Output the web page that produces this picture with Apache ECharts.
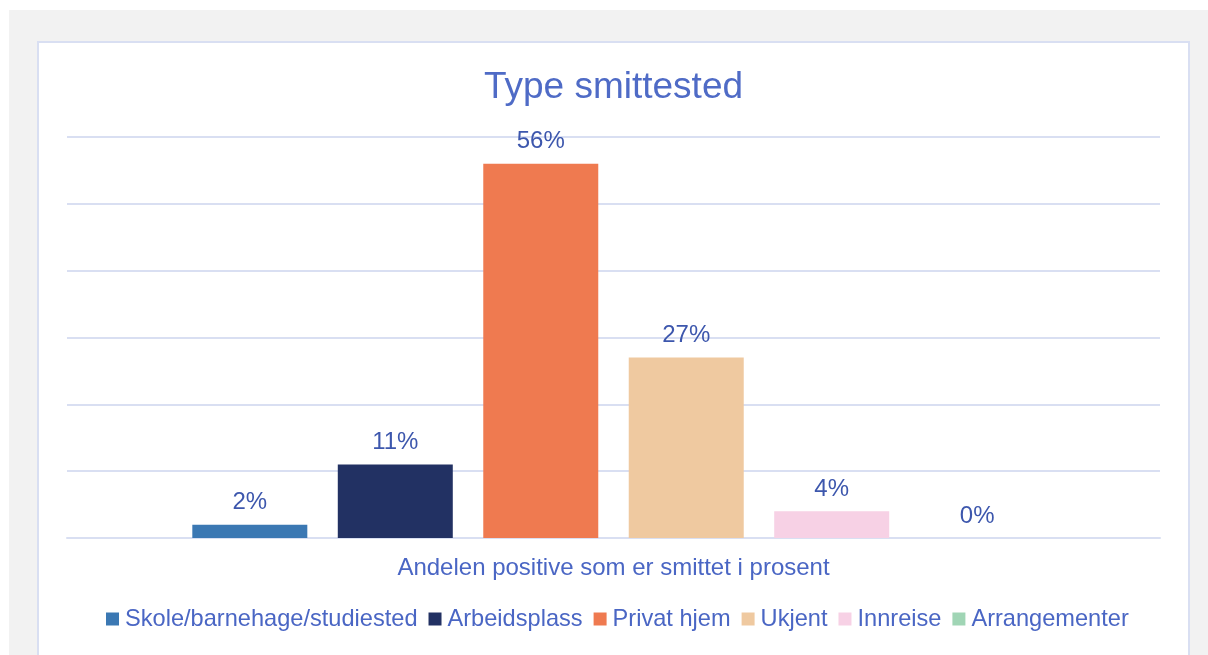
<!DOCTYPE html>
<html>
<head>
<meta charset="utf-8">
<script src="https://cdn.jsdelivr.net/npm/echarts@6/dist/echarts.min.js"></script>
<style>
  html, body { margin: 0; padding: 0; background: #ffffff; width: 1208px; height: 655px; overflow: hidden; }
  #bg { position: absolute; left: 9px; top: 10px; width: 1199px; height: 645px; background: #f2f2f2; }
  #panel { position: absolute; left: 37px; top: 41px; width: 1149px; height: 640px; background: #ffffff; border: 2px solid #d9dff2; }
  #chart { position: absolute; left: 39px; top: 43px; width: 1149px; height: 612px; }
</style>
</head>
<body>
<div id="bg"></div>
<div id="panel"></div>
<div id="chart"></div>
<script>
const seriesNames = ['Skole/barnehage/studiested', 'Arbeidsplass', 'Privat hjem', 'Ukjent', 'Innreise', 'Arrangementer'];
const seriesValues = [2, 11, 56, 27, 4, 0];
const seriesColors = ['#3b78b3', '#223163', '#ef7a50', '#efc9a0', '#f7d1e5', '#a0d5b5'];
const categories = [''];
const titleText = 'Type smittested';
const axisTitle = 'Andelen positive som er smittet i prosent';

const font = 'Liberation Sans, Arial, sans-serif';
const chart = echarts.init(document.getElementById('chart'), null, { renderer: 'canvas' });
chart.setOption({
  backgroundColor: 'transparent',
  animation: false,
  title: {
    text: titleText,
    left: 'center',
    top: 21,
    textStyle: { color: '#4f6bc6', fontSize: 37, fontWeight: 'normal', fontFamily: font }
  },
  legend: {
    data: seriesNames,
    left: 67,
    top: 564,
    padding: 0,
    itemWidth: 13,
    itemHeight: 13,
    itemGap: 11,
    icon: 'rect',
    textStyle: { color: '#4a66c4', fontSize: 23.6, fontFamily: font, padding: [0, 0, 0, 1] }
  },
  grid: { left: 28, right: 28, top: 94, bottom: 117, containLabel: false },
  xAxis: {
    type: 'category',
    data: categories,
    name: axisTitle,
    nameLocation: 'middle',
    nameGap: 18,
    nameTextStyle: { color: '#4a66c4', fontSize: 24, fontFamily: font },
    axisLine: { lineStyle: { color: '#d9dff2', width: 2 } },
    axisTick: { show: false },
    axisLabel: { show: false }
  },
  yAxis: {
    type: 'value',
    min: 0, max: 60, interval: 10,
    axisLabel: { show: false },
    axisLine: { show: false },
    axisTick: { show: false },
    splitLine: { lineStyle: { color: '#d9dff2', width: 2 } }
  },
  series: seriesNames.map((name, i) => ({
    name: name,
    type: 'bar',
    data: [seriesValues[i]],
    barWidth: 115,
    barGap: '26.5%',
    itemStyle: { color: seriesColors[i] },
    label: {
      show: true,
      position: 'top',
      distance: 10,
      formatter: '{c}%',
      color: '#3d57ad',
      fontSize: 24,
      fontFamily: font
    }
  }))
});
</script>
</body>
</html>
